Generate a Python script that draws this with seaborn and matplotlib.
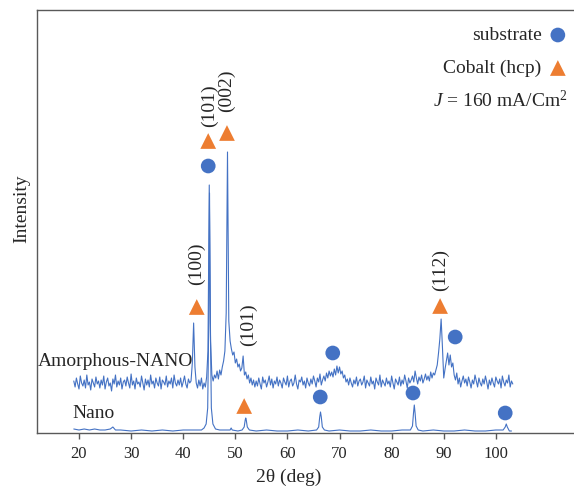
import numpy as np
import matplotlib
matplotlib.use("Agg")
import matplotlib.pyplot as plt
import seaborn as sns

# XRD patterns, intensity in arbitrary units
# Amorphous-NANO: sampled every 0.25 deg starting at 19.0 deg
amorph_start, amorph_step = 19.0, 0.25
amorph_y = [
    52, 46, 55, 49, 44, 57, 50, 47, 53, 45, 58, 48, 51, 43, 54, 50, 46, 56, 49, 52,   # 19-23.75
    45, 53, 48, 57, 44, 51, 55, 47, 50, 42, 54, 49, 58, 46, 52, 48, 55, 44, 51, 53,   # 24-28.75
    47, 56, 50, 45, 59, 48, 52, 44, 55, 49, 51, 46, 57, 50, 43, 54, 48, 53, 46, 58,   # 29-33.75
    49, 52, 45, 55, 50, 47, 56, 44, 53, 51, 48, 57, 46, 52, 49, 55, 45, 58, 50, 47,   # 34-38.75
    53, 48, 55, 46, 51, 57, 49, 45, 54, 50, 52, 70, 110, 66, 50, 45, 53, 47, 55, 44,  # 39-43.75
    50, 46, 56, 82, 248, 92, 58, 52, 58, 55, 62, 54, 63, 58, 66, 72, 82, 120, 281, 112,  # 44-48.75
    92, 84, 78, 81, 70, 74, 66, 69, 62, 65, 77, 58, 61, 54, 58, 50, 55, 48, 53, 46,   # 49-53.75
    52, 47, 55, 49, 44, 56, 50, 53, 46, 51, 57, 48, 54, 45, 52, 49, 56, 47, 53, 50,   # 54-58.75
    45, 55, 51, 48, 57, 46, 52, 54, 47, 50, 58, 49, 44, 53, 51, 56, 48, 52, 45, 55,   # 59-63.75
    50, 47, 54, 49, 57, 52, 46, 55, 51, 59, 48, 53, 57, 52, 60, 55, 62, 57, 61, 56,   # 64-68.75
    64, 58, 67, 60, 66, 59, 62, 55, 58, 51, 54, 48, 55, 50, 46, 53, 49, 56, 47, 52,   # 69-73.75
    54, 48, 51, 57, 45, 53, 50, 47, 56, 49, 52, 44, 55, 51, 48, 58, 46, 53, 50, 47,   # 74-78.75
    55, 49, 52, 46, 57, 50, 44, 54, 51, 48, 56, 47, 53, 49, 58, 52, 45, 55, 50, 53,   # 79-83.75
    57, 51, 62, 55, 49, 56, 52, 58, 50, 54, 59, 53, 57, 52, 61, 55, 60, 58, 63, 68,   # 84-88.75
    80, 94, 114, 86, 55, 64, 72, 80, 68, 78, 66, 70, 58, 53, 60, 49, 55, 46, 52, 57,  # 89-93.75
    50, 54, 47, 56, 51, 45, 53, 49, 58, 52, 46, 55, 50, 47, 54, 49, 57, 51, 44, 53,   # 94-98.75
    48, 55, 50, 46, 56, 52, 49, 54, 45, 57, 51, 47, 53, 50, 58, 46, 52, 49,           # 99-103.25
]

# Nano: measured points (denser around the peaks)
nano_x = [19.0, 20.0, 21.0, 22.0, 23.0, 24.0, 25.0, 26.0, 26.5, 27.0, 28.0, 30.0, 32.0,
          34.0, 36.0, 38.0, 40.0, 42.0, 43.5, 44.0, 44.4, 44.7, 44.9, 45.05, 45.2, 45.4,
          45.7, 46.2, 47.0, 48.0, 49.0, 49.2, 49.4, 50.5, 51.3, 51.7, 51.9, 52.0, 52.1,
          52.3, 52.7, 54.0, 56.0, 58.0, 60.0, 62.0, 64.0, 65.6, 66.0, 66.2, 66.35, 66.5,
          66.7, 67.1, 68.0, 70.0, 72.0, 74.0, 76.0, 78.0, 80.0, 82.0, 83.6, 84.0, 84.2,
          84.35, 84.5, 84.7, 85.1, 86.0, 88.0, 90.0, 92.0, 94.0, 96.0, 98.0, 100.0,
          101.4, 101.8, 102.0, 102.2, 102.6, 103.0]
nano_y = [4, 3, 4, 3, 4, 3, 3, 4, 6, 3, 3, 2, 3,
          2, 3, 2, 3, 3, 3, 5, 9, 25, 110, 240, 110, 25,
          9, 4, 3, 3, 3, 5, 3, 2, 3, 6, 13, 15, 13,
          6, 3, 2, 3, 2, 2, 3, 2, 3, 6, 16, 21, 16,
          6, 3, 2, 3, 2, 2, 3, 2, 2, 3, 3, 7, 20,
          28, 20, 7, 3, 2, 3, 2, 2, 3, 2, 2, 3,
          3, 6, 9, 6, 2, 2]

# phase markers
substrate_x = [44.8, 68.7, 66.3, 84.1, 92.2, 101.8]
substrate_y = [267, 80, 36, 40, 96, 20]
cobalt_x = [42.6, 44.8, 48.4, 51.7, 89.3]
cobalt_y = [126, 292, 300, 27, 127]

# Miller indices
hkl_labels = ["(100)", "(101)", "(002)", "(101)", "(112)"]
hkl_x = [42.45, 45.1, 48.3, 52.45, 89.3]
hkl_y = [169, 327, 342, 108, 163]

xticks = [20, 30, 40, 50, 60, 70, 80, 90, 100]

BLUE = "#4472C4"
ORANGE = "#ED7D31"
SPINE = "#595959"

sns.set_style("ticks")
plt.rcParams["font.family"] = ["Liberation Serif", "DejaVu Serif"]
plt.rcParams["mathtext.fontset"] = "custom"
plt.rcParams["mathtext.rm"] = "Liberation Serif"
plt.rcParams["mathtext.it"] = "Liberation Serif:italic"

fig = plt.figure(figsize=(5.74, 4.87), dpi=100)
ax = fig.add_axes([37 / 574, 54 / 487, 537 / 574, 423 / 487])

amorph_x = amorph_start + amorph_step * np.arange(len(amorph_y))
sns.lineplot(x=amorph_x, y=amorph_y, ax=ax, color=BLUE, lw=0.8, estimator=None, sort=False)
sns.lineplot(x=nano_x, y=nano_y, ax=ax, color=BLUE, lw=0.8, estimator=None, sort=False)

sns.scatterplot(x=substrate_x, y=substrate_y, ax=ax, marker="o", s=112,
                color=BLUE, edgecolor="none", zorder=5)
sns.scatterplot(x=cobalt_x, y=cobalt_y, ax=ax, marker="^", s=128,
                color=ORANGE, edgecolor="none", zorder=5)

for lab, x, y in zip(hkl_labels, hkl_x, hkl_y):
    ax.text(x, y, lab, rotation=90, ha="center", va="center", fontsize=14)

ax.text(12.05, 72, "Amorphous-NANO", ha="left", va="center", fontsize=14)
ax.text(18.66, 20, "Nano", ha="left", va="center", fontsize=14)

# key in the upper right corner
ax.text(108.9, 397, "substrate", ha="right", va="center", fontsize=14)
ax.text(108.7, 365, "Cobalt (hcp)", ha="right", va="center", fontsize=14)
ax.scatter([111.9], [398], marker="o", s=112, color=BLUE, edgecolor="none")
ax.scatter([111.9], [365], marker="^", s=128, color=ORANGE, edgecolor="none")
ax.text(113.7, 333, r"$J$ = 160 mA/Cm$^{2}$", ha="right", va="center", fontsize=14)

ax.set_xlim(11.94, 115.0)
ax.set_ylim(0, 423)
ax.set_xticks(xticks)
ax.set_yticks([])
ax.tick_params(axis="x", labelsize=12, length=4, width=1, color=SPINE, pad=5)
for side in ["left", "top", "bottom"]:
    ax.spines[side].set_color(SPINE)
    ax.spines[side].set_linewidth(1)
ax.spines["right"].set_visible(False)

ax.set_xlabel("2θ (deg)", fontsize=14)
ax.xaxis.set_label_coords(0.469, -0.085)
ax.set_ylabel("Intensity", fontsize=14)
ax.yaxis.set_label_coords(-0.013, 0.53)

fig.savefig("out.png", dpi=100)
